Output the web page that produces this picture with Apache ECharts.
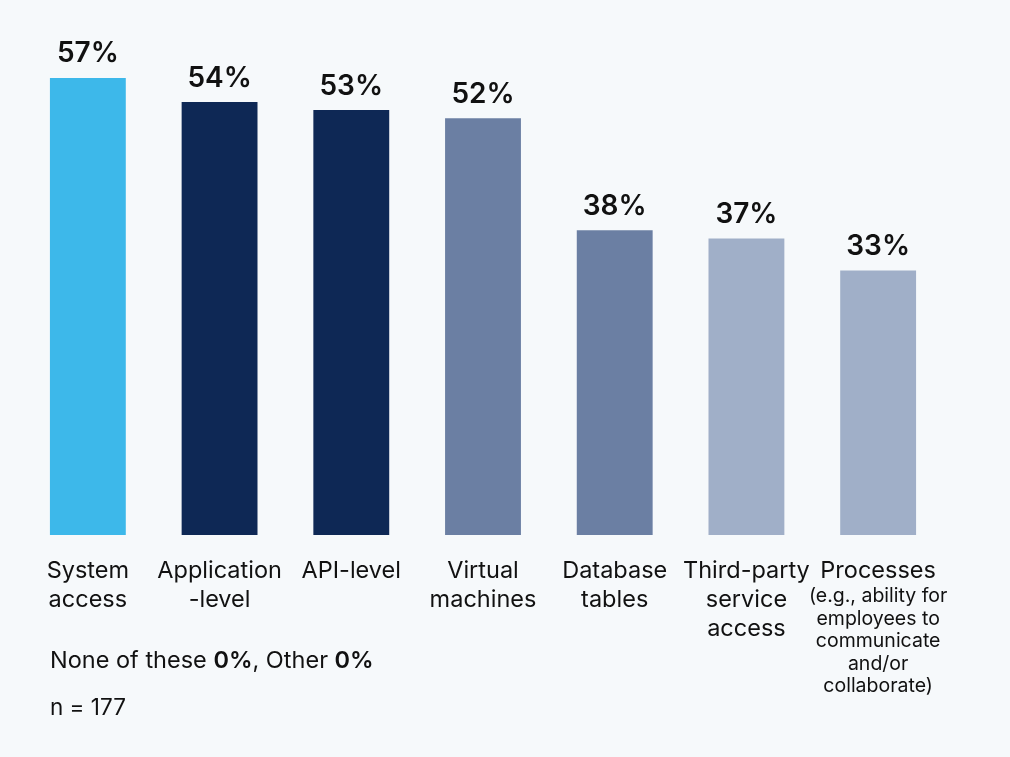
<!DOCTYPE html>
<html>
<head>
<meta charset="utf-8">
<script src="https://cdn.jsdelivr.net/npm/echarts@6/dist/echarts.min.js"></script>
<style>
html,body{margin:0;padding:0;background:#f6f9fb;}
#chart{width:1010px;height:757px;}
</style>
</head>
<body>
<div id="chart"></div>
<script>
const categories = [
  "System\naccess",
  "Application\n-level",
  "API-level",
  "Virtual\nmachines",
  "Database\ntables",
  "Third-party\nservice\naccess",
  "Processes\n{s|(e.g., ability for\nemployees to\ncommunicate\nand/or\ncollaborate)}"
];
const values = [57, 54, 53, 52, 38, 37, 33];
const barColors = ["#3db8ea", "#0e2855", "#0e2855", "#6b7fa3", "#6b7fa3", "#a0afc8", "#a0afc8"];
const footnote1 = "None of these {b|0%}, Other {b|0%}";
const footnote2 = "n = 177";

const chart = echarts.init(document.getElementById('chart'));
chart.setOption({
  backgroundColor: '#f6f9fb',
  animation: false,
  grid: {left: 22, right: 66, top: 54, bottom: 222},
  xAxis: {
    type: 'category',
    data: categories,
    axisLine: {show: false},
    axisTick: {show: false},
    axisLabel: {
      interval: 0,
      margin: 21,
      color: '#111',
      fontFamily: 'Inter',
      fontSize: 23.5,
      lineHeight: 29,
      rich: {
        s: {fontFamily: 'Inter', fontSize: 19.5, lineHeight: 22.5, color: '#111'}
      }
    }
  },
  yAxis: {
    type: 'value', min: 0, max: 60, show: false
  },
  series: [{
    type: 'bar',
    barWidth: '57.6%',
    data: values.map((v, i) => ({value: v, itemStyle: {color: barColors[i]}})),
    label: {
      show: true,
      position: 'top',
      distance: 10,
      formatter: '{c}%',
      fontFamily: 'Inter',
      fontWeight: 600,
      fontSize: 28,
      color: '#111'
    }
  }],
  graphic: [
    {type: 'text', left: 50, top: 649, style: {
      text: footnote1, fontFamily: 'Inter', fontSize: 23.5, fill: '#111',
      rich: {b: {fontFamily: 'Inter', fontSize: 23.5, fontWeight: 600, fill: '#111'}}
    }},
    {type: 'text', left: 50, top: 697, style: {
      text: footnote2, fontFamily: 'Inter', fontSize: 22.5, fill: '#111'
    }}
  ]
});
</script>
</body>
</html>
